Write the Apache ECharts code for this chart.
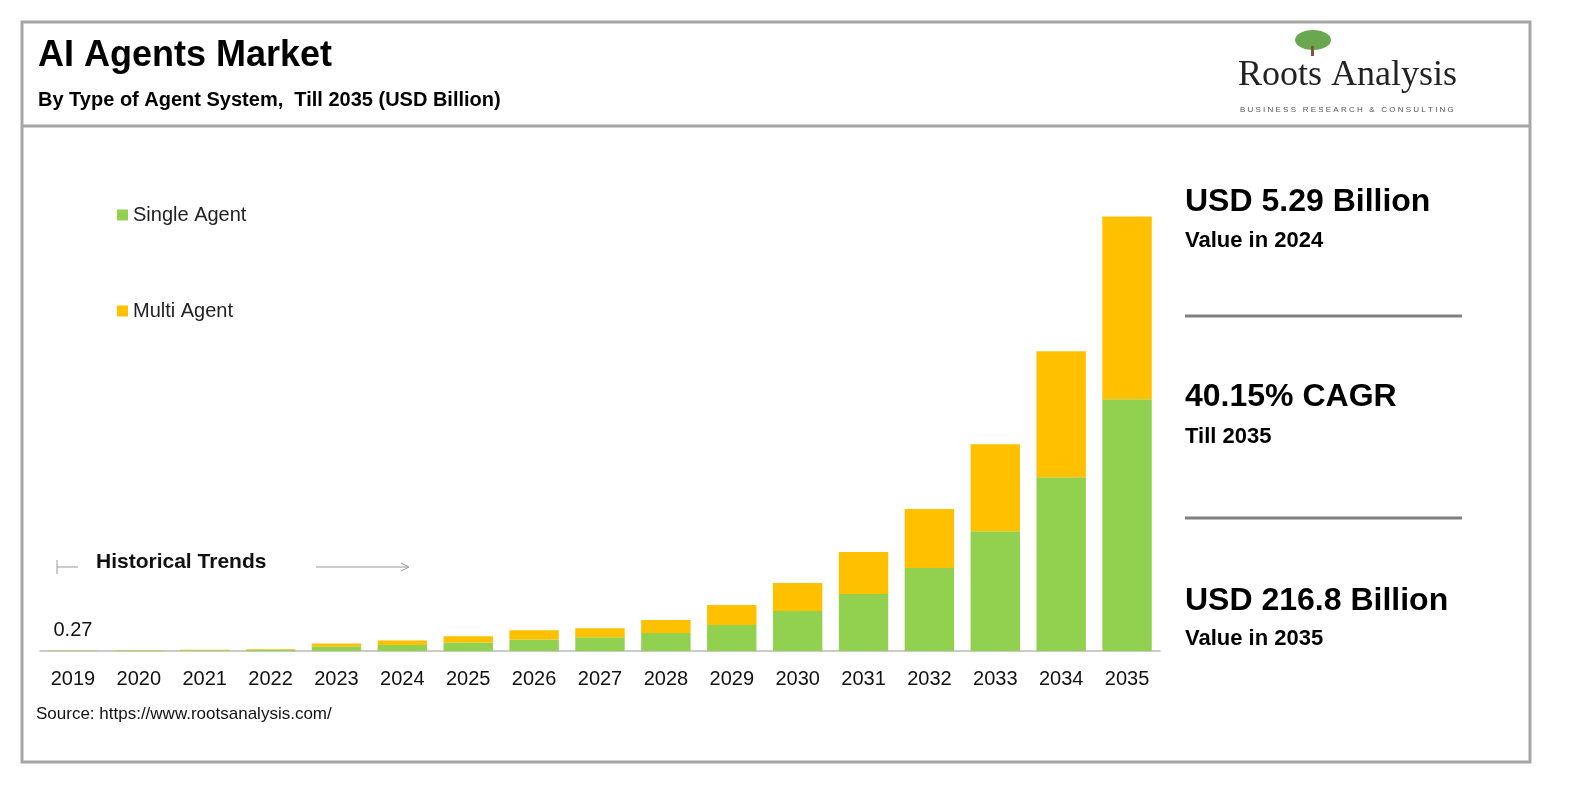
<!DOCTYPE html>
<html><head><meta charset="utf-8">
<script src="https://cdn.jsdelivr.net/npm/echarts@6/dist/echarts.min.js"></script>
<style>html,body{margin:0;padding:0;background:#fff}#chart{width:1588px;height:794px}</style>
</head><body><div id="chart"></div>
<script>
var years = ['2019','2020','2021','2022','2023','2024','2025','2026','2027','2028','2029','2030','2031','2032','2033','2034','2035'];
var singleAgent = [0.17, 0.25, 0.38, 0.55, 2.2, 3.0, 4.2, 5.8, 6.8, 9.0, 13.0, 19.9, 28.4, 41.4, 59.8, 86.7, 125.6];
var multiAgent = [0.10, 0.15, 0.22, 0.35, 1.6, 2.29, 3.2, 4.6, 4.5, 6.5, 9.9, 14.0, 21.0, 29.4, 43.4, 62.9, 91.2];
var firstLabel = '0.27';

var chart = echarts.init(document.getElementById('chart'));
var font = 'Arial, "Liberation Sans", sans-serif';
var option = {
    animation: false,
    grid: {left: 40, right: 428, top: 140, bottom: 143},
    legend: {
        orient: 'vertical', left: 112, top: 200, itemGap: 76,
        icon: 'rect', itemWidth: 11, itemHeight: 11,
        textStyle: {fontFamily: font, fontSize: 20, color: '#222'},
        data: ['Single Agent', 'Multi Agent']
    },
    xAxis: {
        type: 'category', data: years,
        axisLine: {lineStyle: {color: '#bbb', width: 1.5}},
        axisTick: {show: false},
        axisLabel: {fontFamily: font, fontSize: 20, color: '#111', margin: 18}
    },
    yAxis: {type: 'value', min: 0, max: 255, show: false, splitLine: {show: false}},
    series: [
        {name: 'Single Agent', type: 'bar', stack: 'a', barWidth: '75%', data: singleAgent,
         itemStyle: {color: '#92d050'},
         label: {show: true, position: 'top', distance: 10, color: '#111', fontFamily: font, fontSize: 20,
                 formatter: function (p) { return p.dataIndex === 0 ? firstLabel : ''; }}},
        {name: 'Multi Agent', type: 'bar', stack: 'a', data: multiAgent, itemStyle: {color: '#ffc000'}}
    ],
    graphic: [
        {type: 'rect', shape: {x: 22, y: 22, width: 1508, height: 740}, style: {fill: 'none', stroke: '#a6a6a6', lineWidth: 3}},
        {type: 'line', shape: {x1: 22, y1: 126, x2: 1530, y2: 126}, style: {stroke: '#a6a6a6', lineWidth: 3}},
        {type: 'text', left: 38, top: 38, style: {text: 'AI Agents Market', font: 'bold 36px ' + font, fill: '#000'}},
        {type: 'text', left: 38, top: 90, style: {text: 'By Type of Agent System,  Till 2035 (USD Billion)', font: 'bold 20px ' + font, fill: '#000'}},
        {type: 'ellipse', shape: {cx: 1313, cy: 40, rx: 18, ry: 10}, style: {fill: '#6aa84f'}},
        {type: 'rect', shape: {x: 1311, y: 46, width: 3, height: 10}, style: {fill: '#7a5a3a'}},
        {type: 'text', left: 1238, top: 58, style: {text: 'Roots Analysis', font: '36px "Liberation Serif", serif', fill: '#222'}},
        {type: 'text', left: 1240, top: 106, style: {text: 'B U S I N E S S   R E S E A R C H   &   C O N S U L T I N G', font: '8px ' + font, fill: '#555'}},
        {type: 'line', shape: {x1: 57, y1: 560, x2: 57, y2: 574}, style: {stroke: '#999', lineWidth: 1}},
        {type: 'line', shape: {x1: 57, y1: 567, x2: 78, y2: 567}, style: {stroke: '#999', lineWidth: 1}},
        {type: 'text', left: 96, top: 552, style: {text: 'Historical Trends', font: 'bold 21px ' + font, fill: '#111'}},
        {type: 'line', shape: {x1: 316, y1: 567, x2: 408, y2: 567}, style: {stroke: '#999', lineWidth: 1}},
        {type: 'polyline', shape: {points: [[401, 563], [409, 567], [401, 571]]}, style: {stroke: '#999', fill: 'none', lineWidth: 1}},
        {type: 'text', left: 1185, top: 186, style: {text: 'USD 5.29 Billion', font: 'bold 32px ' + font, fill: '#000'}},
        {type: 'text', left: 1185, top: 230, style: {text: 'Value in 2024', font: 'bold 22px ' + font, fill: '#000'}},
        {type: 'line', shape: {x1: 1185, y1: 316, x2: 1462, y2: 316}, style: {stroke: '#808080', lineWidth: 3}},
        {type: 'text', left: 1185, top: 381, style: {text: '40.15% CAGR', font: 'bold 32px ' + font, fill: '#000'}},
        {type: 'text', left: 1185, top: 426, style: {text: 'Till 2035', font: 'bold 22px ' + font, fill: '#000'}},
        {type: 'line', shape: {x1: 1185, y1: 518, x2: 1462, y2: 518}, style: {stroke: '#808080', lineWidth: 3}},
        {type: 'text', left: 1185, top: 585, style: {text: 'USD 216.8 Billion', font: 'bold 32px ' + font, fill: '#000'}},
        {type: 'text', left: 1185, top: 628, style: {text: 'Value in 2035', font: 'bold 22px ' + font, fill: '#000'}},
        {type: 'text', left: 36, top: 706, style: {text: 'Source: https://www.rootsanalysis.com/', font: '17px ' + font, fill: '#111'}}
    ]
};
chart.setOption(option);
</script></body></html>
